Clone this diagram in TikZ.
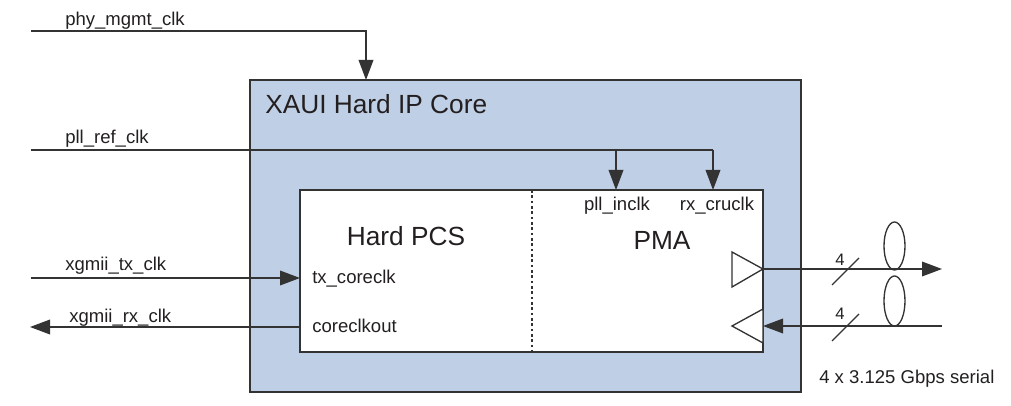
\documentclass[tikz,border=0pt]{standalone}
\usepackage{fontspec}
\setmainfont{Liberation Sans}
\usepackage{xcolor}
\usepackage{tikz}
\usetikzlibrary{arrows.meta,calc}

\definecolor{coreblue}{RGB}{191,207,229}
\definecolor{wire}{RGB}{51,51,51}
\definecolor{ink}{RGB}{35,31,32}

\begin{document}
\begin{tikzpicture}[x=0.75pt,y=-0.75pt,>={Triangle[length=15pt,width=11pt]},line join=miter,
  wire/.style={draw=wire,line width=1pt},
  lbl/.style={inner sep=0pt,text=ink,font=\fontsize{13.9}{16}\selectfont},
  big/.style={inner sep=0pt,text=ink,font=\fontsize{19.7}{23}\selectfont}]
  \useasboundingbox (0,0) rectangle (1011,406);
  % blocks
  \coordinate (CORE0) at (250,80);
  \coordinate (CORE1) at (801,392);
  \coordinate (BLK0) at (300,190);
  \coordinate (BLK1) at (763,352);
  \coordinate (DIV0) at (532,190);
  \coordinate (DIV1) at (532,352);
  \draw[fill=coreblue,draw=wire,line width=1pt] (CORE0) rectangle (CORE1);
  \draw[fill=white,draw=wire,line width=1pt] (BLK0) rectangle (BLK1);
  \draw[wire,dash pattern=on 2pt off 2pt] (DIV0) -- (DIV1);
  % clock inputs
  \coordinate (MG0) at (31,31);
  \coordinate (MG1) at (366,31);
  \coordinate (MG2) at (366,80);
  \coordinate (RF0) at (31,150);
  \coordinate (RF1) at (616,150);
  \coordinate (RF2) at (713,150);
  \coordinate (PI) at (616,190);
  \coordinate (RC) at (713,190);
  \coordinate (TX0) at (31,278);
  \coordinate (TX1) at (300,278);
  \coordinate (RX0) at (300,327);
  \coordinate (RX1) at (30,327);
  \draw[wire,->] (MG0) -- (MG1) -- (MG2);
  \draw[wire] (RF0) -- (RF2);
  \draw[wire,->] (RF1) -- (PI);
  \draw[wire,->] (RF2) -- (RC);
  \draw[wire,->] (TX0) -- (TX1);
  \draw[wire,->] (RX0) -- (RX1);
  % serial lanes
  \coordinate (TO0) at (732,252);
  \coordinate (TO1) at (763,269);
  \coordinate (TO2) at (732,287);
  \coordinate (TI0) at (763,309);
  \coordinate (TI1) at (732,326);
  \coordinate (TI2) at (763,343);
  \coordinate (SO) at (942,269);
  \coordinate (SI0) at (942,326);
  \coordinate (SI1) at (763,326);
  \draw[wire,fill=white] (TO0) -- (TO1) -- (TO2) -- cycle;
  \draw[wire,fill=white] (TI0) -- (TI1) -- (TI2) -- cycle;
  \draw[wire,->] (TO1) -- (SO);
  \draw[wire,->] (SI0) -- (SI1);
  \draw[wire] (832,285) -- (859,258);
  \draw[wire] (832,341) -- (859,314);
  \draw[wire] (894.5,246) ellipse [x radius=10.5,y radius=24];
  \draw[wire] (894.5,301) ellipse [x radius=10.5,y radius=25];
  % labels
  \node[big,anchor=base west] (core) at (265,114) {XAUI Hard IP Core};
  \node[big,anchor=base] (pcs) at (406,246) {Hard PCS};
  \node[big,anchor=base] (pma) at (662,249) {PMA};
  \node[lbl,anchor=base west] (mgmt) at (65,26) {phy\_mgmt\_clk};
  \node[lbl,anchor=base west] (ref) at (65,144) {pll\_ref\_clk};
  \node[lbl,anchor=base west] (txclk) at (65,271) {xgmii\_tx\_clk};
  \node[lbl,anchor=base west] (rxclk) at (69,322) {xgmii\_rx\_clk};
  \node[lbl,anchor=base west] (txcore) at (312,283) {tx\_coreclk};
  \node[lbl,anchor=base west] (clkout) at (312,332) {coreclkout};
  \node[lbl,anchor=base] (inclk) at (617,211) {pll\_inclk};
  \node[lbl,anchor=base] (cruclk) at (717,211) {rx\_cruclk};
  \node[lbl,anchor=base,font=\fontsize{12.5}{14}\selectfont] (wtx) at (840,266) {4};
  \node[lbl,anchor=base,font=\fontsize{12.5}{14}\selectfont] (wrx) at (840,320) {4};
  \node[lbl,anchor=base west] (serial) at (819,383) {4 x 3.125 Gbps serial};
\end{tikzpicture}
\end{document}
